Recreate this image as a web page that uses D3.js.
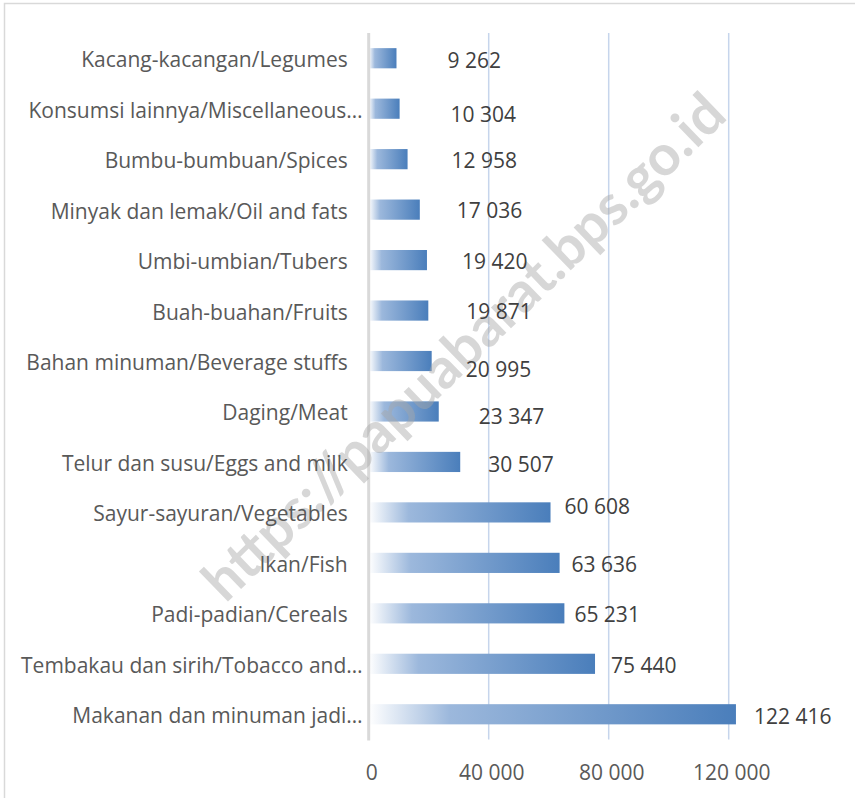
<!DOCTYPE html>
<html>
<head>
<meta charset="utf-8">
<script src="https://cdn.jsdelivr.net/npm/d3@7"></script>
<style>
  body { margin: 0; background: #fff; }
  svg text { font-family: "Open Sans", "Noto Sans", sans-serif; }
</style>
</head>
<body>
<div id="grafico"></div>
<script>
// Dados do gráfico (de cima para baixo)
const categorias = [
  'Kacang-kacangan/Legumes',
  'Konsumsi lainnya/Miscellaneous…',
  'Bumbu-bumbuan/Spices',
  'Minyak dan lemak/Oil and fats',
  'Umbi-umbian/Tubers',
  'Buah-buahan/Fruits',
  'Bahan minuman/Beverage stuffs',
  'Daging/Meat',
  'Telur dan susu/Eggs and milk',
  'Sayur-sayuran/Vegetables',
  'Ikan/Fish',
  'Padi-padian/Cereals',
  'Tembakau dan sirih/Tobacco and…',
  'Makanan dan minuman jadi…'
];
const valores = [9262, 10304, 12958, 17036, 19420, 19871, 20995, 23347, 30507, 60608, 63636, 65231, 75440, 122416];
const ticks = [0, 40000, 80000, 120000];
const marcaDagua = 'https://papuabarat.bps.go.id';

// Deslocamentos manuais dos rótulos (como no original)
const rotuloDx = [51, 51, 44, 37, 35, 38, 34, 40, 28, 14, 12, 10, 16, 18];
const rotuloDy = [2, 5, 1, 0, 1, 0.5, 8, 4.6, 1.7, -6, 1.5, 1, 1, 2];

function criarGrafico() {
  const largura = 855;
  const altura = 798;
  const area = { left: 368.7, right: 788.7, top: 33, bottom: 739.5 };

  const fmt = d3.formatLocale({ decimal: ',', thousands: ' ', grouping: [3], currency: ['', ''] }).format(',d');

  const svg = d3.select('#grafico')
    .append('svg')
    .attr('width', largura)
    .attr('height', altura);

  // Gradiente das barras
  const grad = svg.append('defs').append('linearGradient')
    .attr('id', 'gradBarra')
    .attr('x1', '0%').attr('x2', '100%').attr('y1', '0%').attr('y2', '0%');
  grad.append('stop').attr('offset', '0%').attr('stop-color', '#ffffff');
  grad.append('stop').attr('offset', '22%').attr('stop-color', '#9cb8dc');
  grad.append('stop').attr('offset', '100%').attr('stop-color', '#4a7ebb');

  // Borda
  svg.append('rect')
    .attr('x', 4.5).attr('y', 3.5)
    .attr('width', 1000).attr('height', 1000)
    .attr('fill', 'none')
    .attr('stroke', '#d9d9d9')
    .attr('stroke-width', 1.5);

  const x = d3.scaleLinear().domain([0, 140000]).range([area.left, area.right]);
  const y = d3.scaleBand()
    .domain(categorias)
    .range([area.top, area.bottom])
    .paddingInner(0.6)
    .paddingOuter(0.3);

  // Linhas de grade
  svg.append('g')
    .selectAll('line')
    .data(ticks.filter((t) => t > 0))
    .enter()
    .append('line')
    .attr('x1', (d) => x(d)).attr('x2', (d) => x(d))
    .attr('y1', area.top).attr('y2', area.bottom)
    .attr('stroke', '#c6d5ec')
    .attr('stroke-width', 1.5);

  // Barras
  svg.append('g')
    .selectAll('rect')
    .data(valores)
    .enter()
    .append('rect')
    .attr('x', x(0))
    .attr('y', (d, i) => y(categorias[i]))
    .attr('width', (d) => x(d) - x(0))
    .attr('height', y.bandwidth())
    .attr('fill', 'url(#gradBarra)');

  // Eixo vertical
  svg.append('line')
    .attr('x1', x(0)).attr('x2', x(0))
    .attr('y1', area.top).attr('y2', area.bottom + 1)
    .attr('stroke', '#d9d9d9')
    .attr('stroke-width', 3);

  // Marca d'água
  const wm = svg.append('text')
    .attr('transform', 'translate(462,345) rotate(-44)')
    .attr('text-anchor', 'middle')
    .attr('dominant-baseline', 'central')
    .style('font-family', 'Lato, "Open Sans", sans-serif')
    .attr('font-weight', 700)
    .attr('font-size', 50)
    .attr('fill', '#a6a6a6')
    .attr('fill-opacity', 0.45)
    .text(marcaDagua);
  const comp = wm.node().getComputedTextLength();
  wm.attr('font-size', 50 * 700 / comp);

  // Rótulos das categorias
  svg.append('g')
    .selectAll('text')
    .data(categorias)
    .enter()
    .append('text')
    .attr('x', (d) => (d.endsWith('…') ? x(0) - 6 : x(0) - 21))
    .attr('y', (d) => y(d) + y.bandwidth() / 2 + 1)
    .attr('text-anchor', 'end')
    .attr('dominant-baseline', 'central')
    .attr('font-size', 21)
    .attr('fill', '#595959')
    .text((d) => d);

  // Rótulos dos valores
  svg.append('g')
    .selectAll('text')
    .data(valores)
    .enter()
    .append('text')
    .attr('x', (d, i) => x(d) + rotuloDx[i])
    .attr('y', (d, i) => y(categorias[i]) + y.bandwidth() / 2 + rotuloDy[i])
    .attr('dominant-baseline', 'central')
    .attr('font-size', 21)
    .attr('fill', '#404040')
    .text((d) => fmt(d));

  // Eixo X (apenas rótulos)
  svg.append('g')
    .selectAll('text')
    .data(ticks)
    .enter()
    .append('text')
    .attr('x', (d) => x(d) + 3)
    .attr('y', 772)
    .attr('text-anchor', 'middle')
    .attr('dominant-baseline', 'central')
    .attr('font-size', 21)
    .attr('fill', '#595959')
    .text((d) => fmt(d));
}

criarGrafico();
</script>
</body>
</html>
